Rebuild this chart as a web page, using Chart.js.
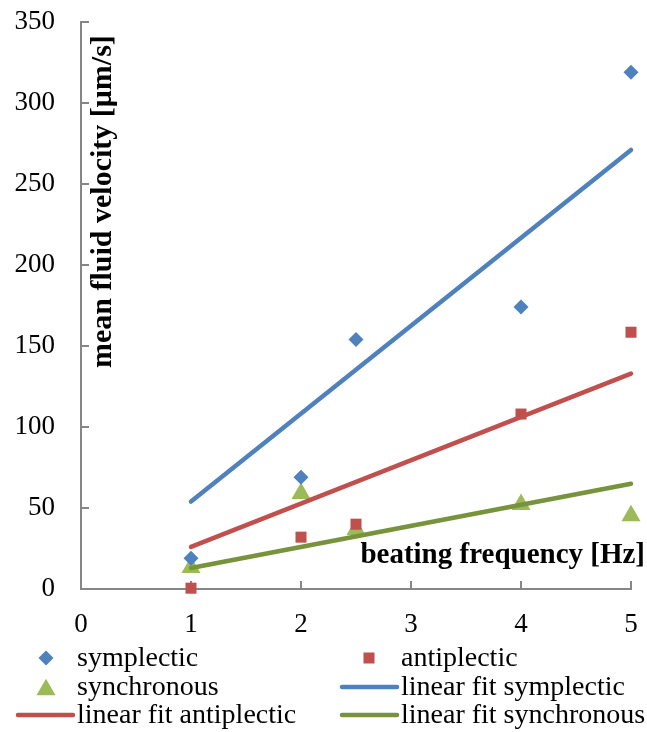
<!DOCTYPE html>
<html>
<head>
<meta charset="utf-8">
<script src="https://cdn.jsdelivr.net/npm/chart.js@4.4.1/dist/chart.umd.min.js"></script>
<style>
html, body { margin: 0; padding: 0; background: #fff; }
#wrap { width: 647px; height: 732px; position: relative; }
</style>
</head>
<body>
<div id="wrap"><canvas id="stage"></canvas></div>
<script>
// values
var frequencies  = [1, 2, 2.5, 4, 5];
var symplectic   = [19, 69, 154, 174, 319];
var antiplectic  = [0.5, 32, 40, 108, 158.5];
var synchronous  = [13.3, 59, 36.8, 52.2, 45.2];

var fitX           = [1, 5];
var fitSymplectic  = [54, 271];
var fitAntiplectic = [26, 133];
var fitSynchronous = [13, 65];

var xTicks = [0, 1, 2, 3, 4, 5];
var yTicks = [0, 50, 100, 150, 200, 250, 300, 350];

var xTitle = 'beating frequency [Hz]';
var yTitle = 'mean fluid velocity [μm/s]';

var SERIF = "'Liberation Serif', 'Times New Roman', serif";
var AXIS = '#868686';

function pts(xs, ys) {
  return xs.map(function (x, i) { return { x: x, y: ys[i] }; });
}

function markerSet(label, ys, color, style, radius) {
  return {
    type: 'scatter', label: label, data: pts(frequencies, ys),
    pointStyle: style, pointRadius: radius, pointHoverRadius: radius,
    backgroundColor: color, borderColor: color, borderWidth: 0, order: 2, clip: false
  };
}

function fitSet(label, ys, color) {
  return {
    type: 'line', label: label, data: pts(fitX, ys),
    borderColor: color, backgroundColor: color, borderWidth: 4.5,
    borderCapStyle: 'round', pointRadius: 0, fill: false, order: 1, clip: false
  };
}

var datasets = [
  markerSet('symplectic', symplectic, '#4F81BD', 'rectRot', 7.5),
  markerSet('antiplectic', antiplectic, '#C0504D', 'rect', 7.8),
  markerSet('synchronous', synchronous, '#9BBB59', 'triangle', 11),
  fitSet('linear fit symplectic', fitSymplectic, '#4F81BD'),
  fitSet('linear fit antiplectic', fitAntiplectic, '#C0504D'),
  fitSet('linear fit synchronous', fitSynchronous, '#77933C')
];

// titles sit inside the plot area, legend is a 2 column grid under the axis
var extras = {
  id: 'extras',
  afterDraw: function (chart) {
    var ctx = chart.ctx;
    ctx.save();
    ctx.fillStyle = '#000';
    ctx.font = 'bold 29px ' + SERIF;
    ctx.textAlign = 'right';
    ctx.textBaseline = 'alphabetic';
    ctx.fillText(xTitle, 645, 563);

    ctx.font = 'bold 30px ' + SERIF;
    ctx.translate(111, 368);
    ctx.rotate(-Math.PI / 2);
    ctx.textAlign = 'left';
    ctx.fillText(yTitle, 0, 0);
    ctx.restore();

    var colMarker = [46, 369];
    var colLine = [[18, 73], [342, 397]];
    var colText = [77, 401];
    var rowY = [658, 687, 715];

    ctx.save();
    ctx.font = '28px ' + SERIF;
    ctx.textAlign = 'left';
    ctx.textBaseline = 'alphabetic';
    chart.data.datasets.forEach(function (ds, i) {
      var col = i % 2, row = Math.floor(i / 2);
      var y = rowY[row];
      ctx.fillStyle = ds.backgroundColor;
      ctx.strokeStyle = ds.borderColor;
      if (ds.type === 'line') {
        ctx.lineWidth = ds.borderWidth;
        ctx.lineCap = 'round';
        ctx.beginPath();
        ctx.moveTo(colLine[col][0], y);
        ctx.lineTo(colLine[col][1], y);
        ctx.stroke();
      } else {
        var cx = colMarker[col], r = ds.pointRadius;
        ctx.beginPath();
        if (ds.pointStyle === 'rectRot') {
          ctx.moveTo(cx, y - r); ctx.lineTo(cx + r, y);
          ctx.lineTo(cx, y + r); ctx.lineTo(cx - r, y);
        } else if (ds.pointStyle === 'rect') {
          var s = r * Math.SQRT1_2;
          ctx.rect(cx - s, y - s, 2 * s, 2 * s);
        } else {
          var cy = y + r / 4;
          ctx.moveTo(cx, cy - r);
          ctx.lineTo(cx + r * 0.866, cy + r / 2);
          ctx.lineTo(cx - r * 0.866, cy + r / 2);
        }
        ctx.closePath();
        ctx.fill();
      }
      ctx.fillStyle = '#000';
      ctx.fillText(ds.label, colText[col], y + 8);
    });
    ctx.restore();
  }
};

var canvas = document.getElementById('stage');
var chart = new Chart(canvas, {
  type: 'scatter',
  data: { datasets: datasets },
  options: {
    responsive: true,
    maintainAspectRatio: false,
    animation: false,
    layout: { padding: { left: 0, top: 22, right: 16, bottom: 100 } },
    plugins: {
      legend: { display: false },
      tooltip: { enabled: false }
    },
    scales: {
      x: {
        type: 'linear', min: 0, max: 5,
        afterBuildTicks: function (s) { s.ticks = xTicks.map(function (v) { return { value: v }; }); },
        afterFit: function (s) { s.height = 43; s.paddingLeft = 0; s.paddingRight = 0; },
        border: { display: true, color: AXIS, width: 2 },
        grid: { drawOnChartArea: false, color: AXIS, lineWidth: 2, tickLength: -8 },
        ticks: { color: '#000', padding: 28, maxRotation: 0, font: { family: SERIF, size: 27 } }
      },
      y: {
        type: 'linear', min: 0, max: 350,
        afterBuildTicks: function (s) { s.ticks = yTicks.map(function (v) { return { value: v }; }); },
        afterFit: function (s) { s.width = 81; s.paddingTop = 0; s.paddingBottom = 0; },
        border: { display: true, color: AXIS, width: 2 },
        grid: { drawOnChartArea: false, color: AXIS, lineWidth: 2, tickLength: -8 },
        ticks: { color: '#000', padding: 34, font: { family: SERIF, size: 27 } }
      }
    }
  },
  plugins: [extras]
});
</script>
</body>
</html>
